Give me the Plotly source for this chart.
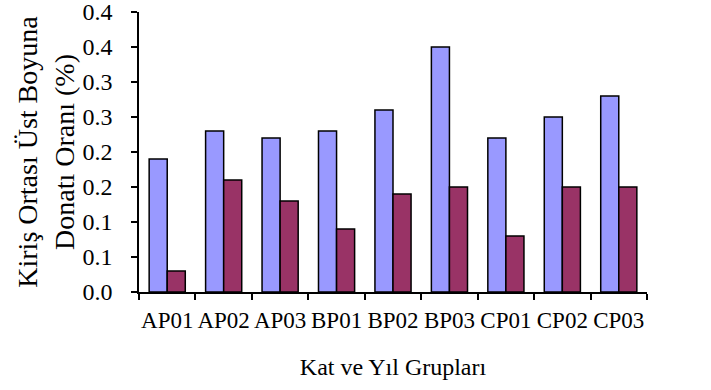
import plotly.graph_objects as go

categories = ["AP01", "AP02", "AP03", "BP01", "BP02", "BP03", "CP01", "CP02", "CP03"]
series_a = [0.19, 0.23, 0.22, 0.23, 0.26, 0.35, 0.22, 0.25, 0.28]
series_b = [0.03, 0.16, 0.13, 0.09, 0.14, 0.15, 0.08, 0.15, 0.15]
y_tick_values = [0.0, 0.05, 0.10, 0.15, 0.20, 0.25, 0.30, 0.35, 0.40]
y_tick_labels = ["0.0", "0.1", "0.1", "0.2", "0.2", "0.3", "0.3", "0.4", "0.4"]

FONT = "Liberation Serif"

fig = go.Figure()
fig.add_trace(go.Bar(x=categories, y=series_a, marker=dict(color="#9999FF", line=dict(color="black", width=1.5))))
fig.add_trace(go.Bar(x=categories, y=series_b, marker=dict(color="#993366", line=dict(color="black", width=1.5))))

fig.update_layout(
    width=711, height=390,
    margin=dict(l=139, r=64, t=12, b=98, autoexpand=False),
    plot_bgcolor="white", paper_bgcolor="white",
    showlegend=False,
    barmode="group", bargap=0.36, bargroupgap=0,
    font=dict(family=FONT, size=24, color="black"),
)
fig.update_xaxes(
    type="category", showline=True, linecolor="black", linewidth=1.5,
    ticks="outside", tickson="boundaries", ticklen=6, tickcolor="black", tickwidth=1.5,
    tickangle=0, automargin=False, ticklabelstandoff=7,
    tickfont=dict(family=FONT, size=23),
    title=dict(text="Kat ve Yıl Grupları", font=dict(family=FONT, size=24), standoff=26),
)
fig.update_yaxes(
    range=[0, 0.4], showline=True, linecolor="black", linewidth=1.5,
    showgrid=False, zeroline=False, automargin=False,
    tickmode="array", tickvals=y_tick_values, ticktext=y_tick_labels,
    ticks="outside", ticklen=6, tickcolor="black", tickwidth=1.5,
    ticklabelstandoff=14, ticklabeloverflow="allow",
    tickfont=dict(family=FONT, size=24),
    title=dict(text="Kiriş Ortası Üst Boyuna<br>Donatı Oranı (%)", font=dict(family=FONT, size=28), standoff=0),
)

fig.write_html("out.html")
